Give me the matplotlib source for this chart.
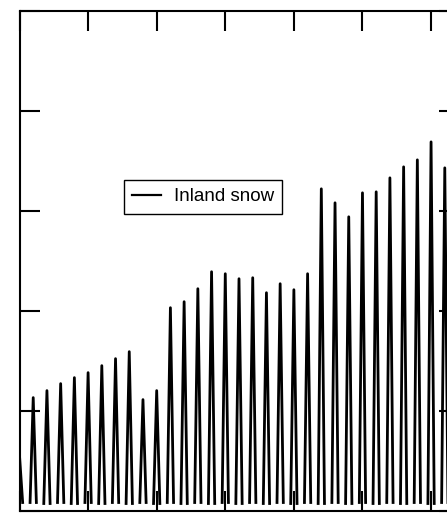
import numpy as np
import matplotlib
matplotlib.use("Agg")
import matplotlib.pyplot as plt

plt.rcParams['font.family'] = ['Liberation Sans', 'DejaVu Sans']

# winter peaks, one per year
peak_years = [1, 2, 3, 4, 5, 6, 7, 8, 9, 10,
              11, 12, 13, 14, 15, 16, 17, 18, 19, 20,
              21, 22, 23, 24, 25, 26, 27, 28, 29, 30, 31]
peak_values = [1.13, 1.20, 1.27, 1.33, 1.38, 1.45, 1.52, 1.59, 1.11, 1.20,
               2.03, 2.09, 2.22, 2.39, 2.37, 2.32, 2.33, 2.18, 2.27, 2.21,
               2.37, 3.22, 3.08, 2.94, 3.18, 3.19, 3.33, 3.44, 3.51, 3.69, 3.43]
# low values at the foot of each peak
base_values = [0.08, 0.07, 0.08, 0.07, 0.08, 0.07, 0.08, 0.07, 0.08, 0.07,
               0.08, 0.07, 0.08, 0.07, 0.08, 0.07, 0.08, 0.07, 0.08, 0.07,
               0.08, 0.07, 0.08, 0.07, 0.08, 0.07, 0.08, 0.07, 0.08, 0.07,
               0.08]
start_value = 0.55
label = 'Inland snow'

HALF_WIDTH = 0.23  # years either side of a peak


def build_series():
    """
    One narrow spike per winter, no line through the snow-free summer.
    """
    t = [0.0, HALF_WIDTH, np.nan]
    v = [start_value, base_values[0], np.nan]
    for yr, pk, b in zip(peak_years, peak_values, base_values):
        t += [yr - HALF_WIDTH, yr, yr + HALF_WIDTH, np.nan]
        v += [b, pk, b, np.nan]
    return np.array(t), np.array(v)


def main():
    t, v = build_series()

    fig = plt.figure(figsize=(4.47, 5.15), dpi=100)
    ax = fig.add_axes([19.5 / 447, 4.5 / 515, 439 / 447, 499.5 / 515])

    ax.plot(t, v, color='black', lw=2.0, label=label)

    ax.set_xlim(0, 32)
    ax.set_ylim(0, 5)
    ax.set_xticks([0, 5, 10, 15, 20, 25, 30])
    ax.set_yticks([0, 1, 2, 3, 4, 5])
    ax.tick_params(direction='in', length=14.4, width=1.5,
                   top=True, right=True,
                   labelbottom=False, labelleft=False)
    for sp in ax.spines.values():
        sp.set_linewidth(1.5)

    leg = ax.legend(loc='upper left', bbox_to_anchor=(0.238, 0.662),
                    borderaxespad=0, fontsize=13.5, handlelength=1.5,
                    handletextpad=0.7, borderpad=0.45, fancybox=False,
                    framealpha=1, edgecolor='black')
    leg.get_frame().set_linewidth(1.0)
    leg.get_lines()[0].set_linewidth(1.6)

    fig.savefig('out.png', dpi=100)


if __name__ == "__main__":
    main()
